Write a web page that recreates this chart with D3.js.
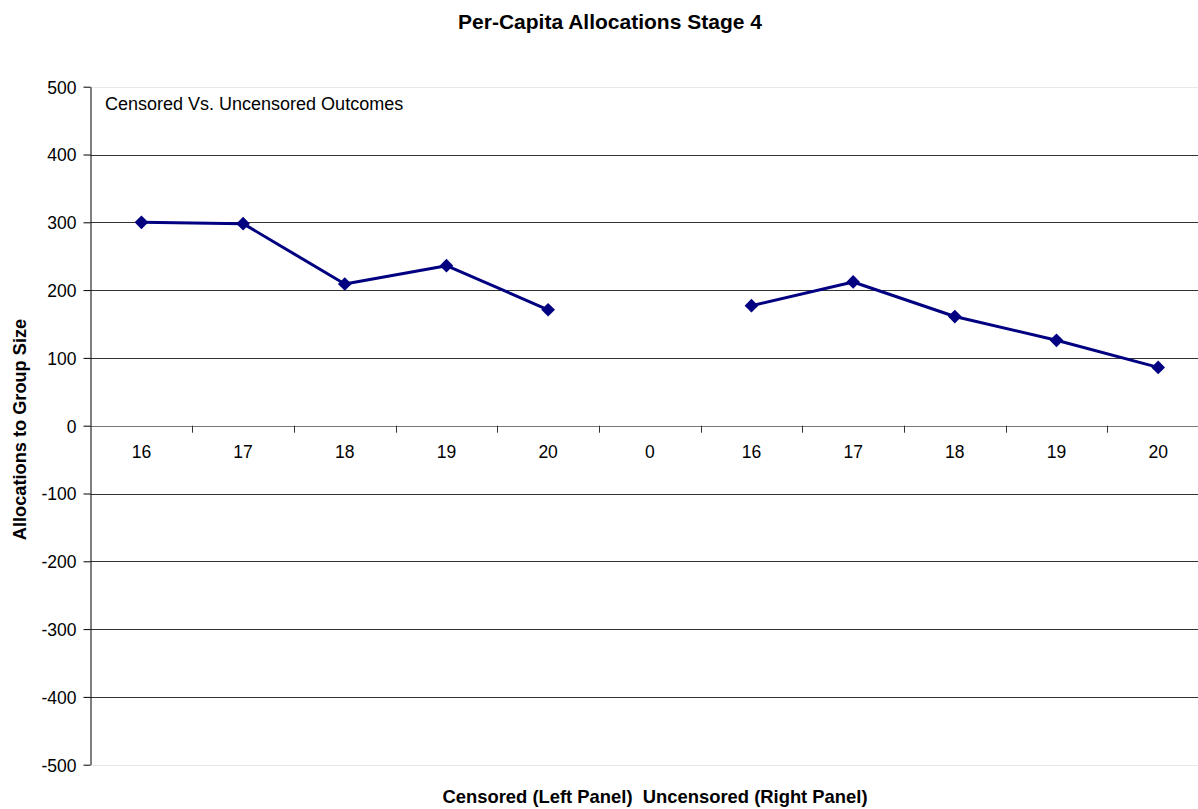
<!DOCTYPE html>
<html><head><meta charset="utf-8">
<script src="https://cdn.jsdelivr.net/npm/d3@7"></script>
<style>body{margin:0;background:#fff;}svg{display:block;font-family:"Liberation Sans",Arial,sans-serif;}</style>
</head><body>
<svg id="c" width="1198" height="809"></svg>
<script>
const categories = ["16","17","18","19","20","0","16 ","17 ","18 ","19 ","20 "];
const censored = [300, 298, 209, 236, 171];
const uncensored = [177, 212, 161, 126, 86];
const yTicks = [-500,-400,-300,-200,-100,0,100,200,300,400,500];

(function(){
const values = censored.concat([null]).concat(uncensored);
const data = categories.map((c,i)=>({c, v: values[i]}));

const svg = d3.select("#c");
const pL = 90.6, pR = 1209, pT = 86.7, pB = 764.7;
const x = d3.scaleBand().domain(categories).range([pL, pR]).padding(0);
const y = d3.scaleLinear().domain([-500, 500]).range([pB, pT]);

// gridlines
svg.append("g").selectAll("line").data(yTicks).join("line")
  .attr("x1", pL).attr("x2", 1198)
  .attr("y1", d=>Math.round(y(d))+0.5).attr("y2", d=>Math.round(y(d))+0.5)
  .attr("stroke", d => (d===500||d===-500) ? "#e8e8e8" : (d===0 ? "#777" : "#333"))
  .attr("stroke-width", 1);

// y axis
const yAxis = d3.axisLeft(y).tickValues(yTicks).tickSize(7).tickPadding(7).tickSizeOuter(0).tickFormat(d => String(d));
const gy = svg.append("g").attr("transform", `translate(${Math.round(pL)-0.5},0)`).call(yAxis);
gy.select(".domain").attr("stroke", "#000");
gy.selectAll(".tick line").attr("stroke", "#000");
gy.selectAll("text").attr("font-size", 17.5).attr("fill", "#000").attr("dy", "0.36em")
  .attr("font-family", "Liberation Sans, Arial, sans-serif");

// x axis category ticks at boundaries
const boundaries = categories.slice(1).map(c => x(c));
svg.append("g").selectAll("line").data(boundaries).join("line")
  .attr("x1", d=>Math.round(d)+0.5).attr("x2", d=>Math.round(d)+0.5)
  .attr("y1", y(0)).attr("y2", y(0)+7)
  .attr("stroke", "#333");
svg.append("g").selectAll("text").data(categories).join("text")
  .attr("x", d => x(d) + x.bandwidth()/2)
  .attr("y", 458)
  .attr("text-anchor", "middle").attr("font-size", 17.5).attr("fill", "#000")
  .text(d => d.trim());

// line
const line = d3.line().defined(d => d.v !== null)
  .x(d => x(d.c) + x.bandwidth()/2).y(d => y(d.v));
svg.append("path").datum(data).attr("d", line)
  .attr("fill", "none").attr("stroke", "#000080").attr("stroke-width", 3).attr("stroke-linejoin", "round");

// markers
const sym = d3.symbol().type(d3.symbolDiamond2).size(120);
svg.append("g").selectAll("path").data(data.filter(d=>d.v!==null)).join("path")
  .attr("d", sym)
  .attr("transform", d => `translate(${x(d.c)+x.bandwidth()/2},${y(d.v)})`)
  .attr("fill", "#000080");

// texts
svg.append("text").attr("x", 610).attr("y", 29).attr("text-anchor", "middle")
  .attr("font-size", 21).attr("font-weight", "bold").text("Per-Capita Allocations Stage 4");
svg.append("text").attr("x", 105).attr("y", 110).attr("font-size", 18)
  .text("Censored Vs. Uncensored Outcomes");
svg.append("text").attr("x", 655).attr("y", 803).attr("text-anchor", "middle")
  .attr("font-size", 18.4).attr("font-weight", "bold").attr("xml:space","preserve")
  .text("Censored (Left Panel)  Uncensored (Right Panel)");
svg.append("text").attr("transform", `translate(26,429.5) rotate(-90)`)
  .attr("text-anchor", "middle").attr("font-size", 18.2).attr("font-weight", "bold")
  .text("Allocations to Group Size");
})();
</script>
</body></html>
